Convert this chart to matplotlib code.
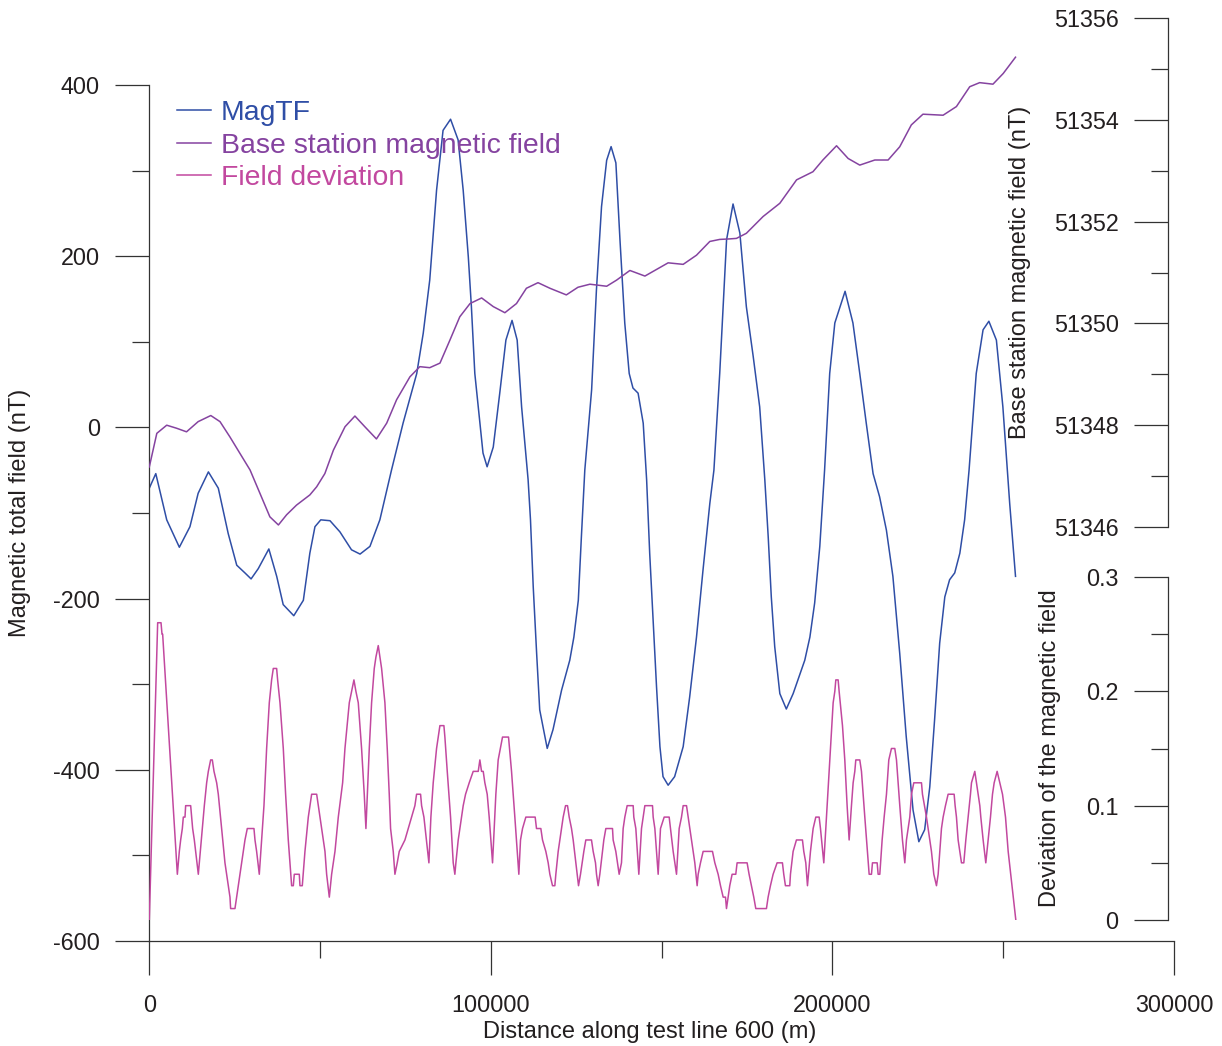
import matplotlib
matplotlib.use("Agg")
import matplotlib.pyplot as plt
from matplotlib.ticker import MultipleLocator, FuncFormatter

plt.rcParams['font.family'] = ['Liberation Sans', 'DejaVu Sans']
plt.rcParams['axes.unicode_minus'] = False

# distance along the line in km, converted to metres when plotted
mag_km = [0, 1.9, 5.1, 8.8, 11.9, 14.3, 17.3, 20.2, 23.1, 25.6, 28.0, 29.8, 31.9, 35.0,
          37.3, 39.2, 42.3, 45.1, 47.0, 48.5, 50.2, 52.9, 55.8, 59.2, 61.7, 64.6, 67.5,
          70.9, 74.3, 78.3, 80.2, 82.1, 84.1, 86.0, 88.2, 90.4, 91.9, 93.4, 94.3, 95.3,
          96.8, 97.7, 98.9, 100.7, 102.6, 104.4, 106.2, 107.7, 109.0, 110.9, 111.6, 112.4,
          113.4, 114.3, 116.5, 118.2, 120.7, 123.1, 124.3, 125.6, 126.5, 127.5, 129.5,
          130.9, 132.4, 133.9, 135.2, 136.6, 137.8, 139.2, 140.5, 141.6, 143.1, 144.6,
          145.6, 146.5, 147.5, 148.5, 149.5, 150.4, 151.9, 153.8, 156.3, 158.2, 160.2,
          162.1, 164.1, 165.3, 167.0, 169.0, 170.9, 172.9, 174.8, 176.8, 178.7, 180.2,
          181.2, 182.1, 183.1, 184.6, 186.5, 188.5, 191.9, 193.4, 194.8, 196.3, 197.7,
          199.2, 200.7, 203.7, 206.0, 208.0, 209.9, 211.9, 213.8, 215.8, 217.7, 219.7,
          221.6, 223.6, 225.3, 227.0, 228.5, 229.9, 231.4, 232.9, 234.3, 235.8, 237.3,
          238.7, 240.0, 242.1, 244.1, 245.8, 248.0, 249.9, 251.4, 251.9, 253.6]
mag_tf = [-71, -54, -108, -140, -116, -77, -52, -71, -124, -161, -170, -177, -165, -142,
          -174, -207, -220, -202, -147, -116, -108, -109, -122, -143, -148, -139, -108,
          -50, 5, 63, 110, 172, 277, 347, 360, 336, 277, 199, 141, 63,
          5, -30, -46, -23, 40, 102, 125, 102, 24, -61, -108, -186,
          -264, -330, -375, -353, -307, -272, -245, -202, -128, -50, 44,
          160, 258, 312, 328, 309, 219, 122, 63, 46, 40, 5,
          -61, -147, -225, -303, -373, -408, -418, -408, -373, -315, -245,
          -167, -89, -50, 63, 219, 261, 227, 141, 83, 24, -61,
          -128, -198, -256, -311, -329, -311, -272, -245, -205, -139, -50,
          63, 122, 159, 122, 63, 5, -54, -81, -120, -174, -264,
          -361, -447, -484, -470, -420, -342, -252, -198, -178, -170, -147,
          -108, -50, 63, 114, 124, 102, 24, -61, -89, -174]

base_km = [0, 2.2, 5.1, 8.0, 10.9, 14.3, 18.0, 20.7, 23.6, 26.5, 29.5, 32.4, 35.3, 37.8,
           40.2, 43.1, 47.0, 49.0, 51.4, 53.9, 57.3, 60.2, 63.1, 66.5, 69.5, 72.4, 76.3,
           79.2, 82.1, 85.1, 88.0, 90.9, 93.9, 97.3, 100.7, 104.1, 107.5, 110.4, 113.8,
           117.3, 122.1, 125.5, 129.0, 133.9, 136.8, 140.7, 145.1, 148.5, 151.9, 156.3,
           160.2, 164.1, 167.0, 169.9, 171.9, 174.8, 179.7, 184.6, 189.5, 194.3, 197.2,
           201.2, 204.6, 208.0, 212.4, 216.3, 219.7, 223.1, 226.5, 232.4, 236.3, 240.2,
           243.1, 247.0, 250.0, 253.6]
base_field = [51347.18, 51347.84, 51348.00, 51347.94, 51347.87, 51348.07, 51348.19,
              51348.07, 51347.77, 51347.45, 51347.12, 51346.66, 51346.20, 51346.04,
              51346.24, 51346.43, 51346.63, 51346.79, 51347.05, 51347.51, 51347.97,
              51348.18, 51347.97, 51347.73, 51348.04, 51348.50, 51348.95, 51349.15,
              51349.13, 51349.22, 51349.67, 51350.13, 51350.39, 51350.50, 51350.33,
              51350.21, 51350.39, 51350.69, 51350.80, 51350.69, 51350.56, 51350.71,
              51350.77, 51350.73, 51350.85, 51351.04, 51350.93, 51351.06, 51351.19,
              51351.16, 51351.34, 51351.61, 51351.65, 51351.66, 51351.67, 51351.77,
              51352.10, 51352.36, 51352.82, 51352.98, 51353.21, 51353.49, 51353.24,
              51353.11, 51353.21, 51353.21, 51353.47, 51353.90, 51354.11, 51354.09,
              51354.26, 51354.65, 51354.73, 51354.70, 51354.91, 51355.23]

dev_km = [0, 2.45, 3.43, 3.72, 3.91, 8.01, 8.21, 8.50, 8.79, 9.18, 9.67, 9.96, 10.45,
          10.64, 12.11, 12.40, 12.69, 13.18, 13.57, 14.35, 16.11, 16.79, 17.28, 17.96,
          18.45, 18.94, 19.72, 20.2, 21.18, 21.86, 22.15, 22.64, 23.13, 23.62, 23.81,
          25.08, 25.57, 26.06, 26.54, 27.03, 27.52, 28.01, 28.69, 30.64, 30.94, 31.42,
          32.2, 33.57, 34.35, 35.13, 35.81, 36.3, 37.28, 37.57, 38.26, 39.23, 39.91,
          40.69, 41.67, 42.16, 42.45, 43.91, 44.11, 44.79, 45.57, 46.55, 47.04, 47.53,
          49.0, 49.48, 50.46, 51.43, 51.92, 52.7, 53.38, 54.36, 55.33, 56.6, 57.28,
          58.55, 59.23, 59.91, 60.49, 61.18, 62.15, 62.93, 63.42, 64.4, 65.08, 65.86,
          66.35, 67.03, 67.52, 68.01, 68.98, 69.66, 70.25, 70.64, 71.42, 71.91, 72.59,
          73.18, 74.84, 75.81, 76.79, 77.76, 78.25, 79.42, 79.72, 80.4, 81.86,
          82.44, 83.12, 84.1, 85.08, 86.25, 86.54, 87.23, 88.2, 88.98, 89.46, 89.76,
          90.44, 90.93, 91.42, 91.9, 92.59, 93.66, 94.83, 96.3, 96.78, 97.27, 97.76,
          98.24, 98.93, 99.51, 100.49, 101.46, 102.14, 103.41, 105.17, 106.05, 107.02,
          108.19, 108.68, 109.27, 110.24, 112.97, 113.36, 114.63, 115.12, 116.09,
          116.78, 117.27, 118.05, 118.73, 119.02, 119.71, 120.2, 120.68, 121.17,
          121.86, 122.44, 122.93, 123.61, 124.1, 124.88, 125.66, 126.24, 126.73,
          127.22, 127.8, 129.46, 129.95, 130.63, 130.93, 131.41, 131.9, 132.68,
          133.07, 133.66, 135.61, 135.8, 136.58, 137.56, 138.24, 138.73, 139.22,
          139.9, 141.66, 141.85, 142.44, 143.32, 144.1, 144.59, 145.08, 147.32,
          147.52, 148.01, 148.98, 149.66, 150.74, 152.2, 152.59, 153.37, 154.35,
          155.13, 155.81, 156.3, 157.28, 157.76, 158.74, 159.71, 160.39, 160.69,
          161.37, 162.15, 164.88, 165.57, 166.54, 167.23, 168.01, 168.69, 168.98,
          169.46, 169.94, 170.63, 171.7, 172.09, 175.02, 175.6, 176.29, 176.97,
          177.56, 180.68, 181.17, 181.85, 182.63, 183.8, 185.36, 185.75, 186.24,
          187.51, 187.71, 188.49, 189.46, 191.22, 191.61, 192.2, 192.69, 193.57,
          194.35, 195.13, 196.11, 196.5, 197.47, 198.45, 199.23, 200.21, 200.7,
          200.99, 201.67, 201.96, 202.94, 203.62, 204.3, 204.89, 205.57, 206.06,
          206.55, 206.84, 208.01, 208.5, 209.48, 210.75, 211.43, 211.72, 213.09,
          213.38, 213.87, 214.55, 215.14, 215.82, 216.5, 217.28, 218.26, 218.75,
          219.72, 220.5, 221.19, 221.67, 222.65, 223.14, 223.82, 226.07, 226.36,
          227.53, 228.02, 228.99, 229.68, 230.46, 230.95, 231.43, 231.92, 232.41,
          233.09, 233.87, 235.63, 235.92, 236.31, 236.8, 237.78, 238.46, 239.05,
          239.73, 240.41, 240.71, 241.68, 242.17, 243.15, 243.44, 244.12, 244.9,
          245.59, 246.27, 246.86, 247.35, 248.22, 249.0, 249.79, 250.67, 251.45,
          253.69]
dev_field = [0.00, 0.26, 0.26, 0.25, 0.25, 0.05, 0.04, 0.05, 0.06, 0.07, 0.08, 0.09, 0.09,
             0.10, 0.10, 0.09, 0.08, 0.07, 0.06, 0.04, 0.10, 0.12, 0.13, 0.14,
             0.14, 0.13, 0.12, 0.11, 0.08, 0.06, 0.05, 0.04, 0.03, 0.02, 0.01,
             0.01, 0.02, 0.03, 0.04, 0.05, 0.06, 0.07, 0.08, 0.08, 0.07, 0.06,
             0.04, 0.10, 0.15, 0.19, 0.21, 0.22, 0.22, 0.21, 0.19, 0.15, 0.11,
             0.07, 0.03, 0.03, 0.04, 0.04, 0.03, 0.03, 0.06, 0.09, 0.10, 0.11,
             0.11, 0.10, 0.08, 0.06, 0.04, 0.02, 0.04, 0.06, 0.09, 0.12, 0.15,
             0.19, 0.20, 0.21, 0.20, 0.19, 0.15, 0.11, 0.08, 0.15, 0.19, 0.22,
             0.23, 0.24, 0.23, 0.22, 0.19, 0.15, 0.11, 0.08, 0.06, 0.04, 0.05,
             0.06, 0.07, 0.08, 0.09, 0.10, 0.11, 0.11, 0.10, 0.09, 0.05,
             0.09, 0.12, 0.15, 0.17, 0.17, 0.16, 0.13, 0.09, 0.05, 0.04, 0.05,
             0.07, 0.08, 0.09, 0.10, 0.11, 0.12, 0.13, 0.13, 0.14, 0.13, 0.13,
             0.12, 0.11, 0.09, 0.05, 0.11, 0.14, 0.16, 0.16, 0.13, 0.09,
             0.04, 0.07, 0.08, 0.09, 0.09, 0.08, 0.08, 0.07, 0.06,
             0.05, 0.04, 0.03, 0.03, 0.04, 0.06, 0.07, 0.08, 0.09,
             0.10, 0.10, 0.09, 0.08, 0.07, 0.05, 0.03, 0.04, 0.05,
             0.06, 0.07, 0.07, 0.06, 0.05, 0.04, 0.03, 0.04, 0.06,
             0.07, 0.08, 0.08, 0.07, 0.06, 0.04, 0.05, 0.08, 0.09,
             0.10, 0.10, 0.09, 0.08, 0.04, 0.08, 0.09, 0.10, 0.10,
             0.09, 0.08, 0.04, 0.08, 0.09, 0.09, 0.08, 0.06, 0.04,
             0.08, 0.09, 0.10, 0.10, 0.09, 0.07, 0.05, 0.03, 0.04,
             0.05, 0.06, 0.06, 0.05, 0.04, 0.03, 0.02, 0.02, 0.01,
             0.02, 0.03, 0.04, 0.04, 0.05, 0.05, 0.04, 0.03, 0.02,
             0.01, 0.01, 0.02, 0.03, 0.04, 0.05, 0.05, 0.04, 0.03,
             0.03, 0.04, 0.06, 0.07, 0.07, 0.06, 0.05, 0.03, 0.06,
             0.08, 0.09, 0.09, 0.08, 0.05, 0.10, 0.14, 0.19, 0.20,
             0.21, 0.21, 0.20, 0.17, 0.14, 0.10, 0.07, 0.10, 0.12,
             0.13, 0.14, 0.14, 0.13, 0.09, 0.04, 0.04, 0.05, 0.05,
             0.04, 0.04, 0.07, 0.09, 0.11, 0.14, 0.15, 0.15, 0.14,
             0.10, 0.07, 0.05, 0.07, 0.09, 0.11, 0.12, 0.12, 0.11,
             0.09, 0.08, 0.06, 0.04, 0.03, 0.04, 0.06, 0.08, 0.09,
             0.10, 0.11, 0.11, 0.10, 0.09, 0.07, 0.05, 0.05, 0.07,
             0.09, 0.11, 0.12, 0.13, 0.12, 0.10, 0.09, 0.07, 0.05,
             0.07, 0.09, 0.11, 0.12, 0.13, 0.12, 0.11, 0.09, 0.06,
             0.00]

C_MAG = '#2f4ea6'
C_BASE = '#8543a0'
C_DEV = '#c2489f'
INK = '#231f20'
SPINE = '#333333'

W, H = 1222, 1046
fig = plt.figure(figsize=(W / 100, H / 100), dpi=100)


def box(x0, y0, x1, y1):
    # pixel box (top-left origin) -> figure fraction rect
    return [x0 / W, 1 - y1 / H, (x1 - x0) / W, (y1 - y0) / H]


def style_ticks(a, axis):
    a.tick_params(axis=axis, which='major', length=24.5, width=0.9, color=SPINE,
                  labelsize=16.8, labelcolor=INK, pad=11)
    a.tick_params(axis=axis, which='minor', length=12.2, width=0.9, color=SPINE)


X0, X1 = 149.3, 1174
SPINE_X = (1168 - X0) / (X1 - X0)

ax = fig.add_axes(box(X0, 85, X1, 941))
ax.plot([k * 1000 for k in mag_km], mag_tf, color=C_MAG, lw=1.1, label='MagTF')
ax.set_xlim(0, 300000)
ax.set_ylim(-600, 400)
for s in ('top', 'right'):
    ax.spines[s].set_visible(False)
for s in ('left', 'bottom'):
    ax.spines[s].set_color(SPINE)
    ax.spines[s].set_linewidth(0.9)
ax.xaxis.set_major_locator(MultipleLocator(100000))
ax.xaxis.set_minor_locator(MultipleLocator(50000))
ax.yaxis.set_major_locator(MultipleLocator(200))
ax.yaxis.set_minor_locator(MultipleLocator(100))
style_ticks(ax, 'both')
ax.tick_params(axis='x', which='major', pad=14)
ax.set_xlabel('Distance along test line 600 (m)', fontsize=17, color=INK, va='center')
ax.xaxis.set_label_coords(0.4885, -0.1063)
ax.set_ylabel('Magnetic total field (nT)', fontsize=17, color=INK, va='center')
ax.yaxis.set_label_coords(-0.1262, 0.5)

# base station scale, upper right
axb = fig.add_axes(box(X0, 18, X1, 527))
axb.patch.set_visible(False)
axb.plot([k * 1000 for k in base_km], base_field, color=C_BASE, lw=1.1,
         label='Base station magnetic field')
axb.set_xlim(0, 300000)
axb.set_ylim(51346, 51356)
axb.xaxis.set_visible(False)
for s in ('top', 'right', 'bottom'):
    axb.spines[s].set_visible(False)
axb.spines['left'].set_position(('axes', SPINE_X))
axb.spines['left'].set_color(SPINE)
axb.spines['left'].set_linewidth(0.9)
axb.yaxis.set_major_locator(MultipleLocator(2))
axb.yaxis.set_minor_locator(MultipleLocator(1))
style_ticks(axb, 'y')
axb.set_ylabel('Base station magnetic field (nT)', fontsize=17, color=INK, va='center')
axb.yaxis.set_label_coords((1020 - X0) / (X1 - X0), 0.5)

# deviation scale, lower right
axd = fig.add_axes(box(X0, 577, X1, 920))
axd.patch.set_visible(False)
axd.plot([k * 1000 for k in dev_km], dev_field, color=C_DEV, lw=1.1,
         label='Field deviation')
axd.set_xlim(0, 300000)
axd.set_ylim(0, 0.3)
axd.xaxis.set_visible(False)
for s in ('top', 'right', 'bottom'):
    axd.spines[s].set_visible(False)
axd.spines['left'].set_position(('axes', SPINE_X))
axd.spines['left'].set_color(SPINE)
axd.spines['left'].set_linewidth(0.9)
axd.yaxis.set_major_locator(MultipleLocator(0.1))
axd.yaxis.set_minor_locator(MultipleLocator(0.05))
axd.yaxis.set_major_formatter(FuncFormatter(lambda v, p: f'{v:.1f}' if v > 1e-9 else '0'))
style_ticks(axd, 'y')
axd.set_ylabel('Deviation of the magnetic field', fontsize=17, color=INK, va='center')
axd.yaxis.set_label_coords((1050 - X0) / (X1 - X0), 0.5)

handles = ax.get_lines() + axb.get_lines() + axd.get_lines()
leg = ax.legend(handles, [h.get_label() for h in handles], loc='upper left',
                bbox_to_anchor=((177 - X0) / (X1 - X0), (941 - 100) / 856),
                frameon=False, fontsize=20.4, handlelength=1.2, handletextpad=0.35,
                labelspacing=0.23, borderpad=0, borderaxespad=0)
for txt, col in zip(leg.get_texts(), (C_MAG, C_BASE, C_DEV)):
    txt.set_color(col)

fig.savefig('out.png', dpi=100)
